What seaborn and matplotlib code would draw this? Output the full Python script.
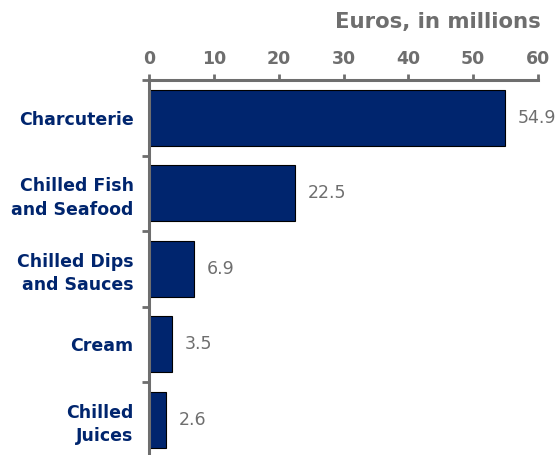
import matplotlib
matplotlib.use("Agg")
import matplotlib.pyplot as plt
import seaborn as sns
import pandas as pd
import numpy as np

categories = ["Charcuterie", "Chilled Fish\nand Seafood", "Chilled Dips\nand Sauces", "Cream", "Chilled\nJuices"]
values = [54.9, 22.5, 6.9, 3.5, 2.6]
x_ticks = [0, 10, 20, 30, 40, 50, 60]
axis_title = "Euros, in millions"

navy = "#00256E"
grey = "#6E6E6E"

sns.set_theme(style="white")
plt.rcParams["font.family"] = ["DejaVu Sans"]

df = pd.DataFrame({"category": categories, "value": values})

fig = plt.figure(figsize=(5.58, 4.55), dpi=100)
ax = fig.add_axes([149 / 558, -0.0055, (538 - 149) / 558, (457.5 - 80) / 455])

sns.barplot(data=df, x="value", y="category", orient="h", color=navy,
            saturation=1, width=0.74, edgecolor="black", linewidth=0.8, ax=ax)

ax.set_xlim(0, 60)
ax.set_ylim(4.5, -0.5)
ax.xaxis.tick_top()
ax.set_xticks(x_ticks)
ax.set_xticklabels([str(t) for t in x_ticks], fontsize=12.5, fontweight="bold", color=grey)
ax.tick_params(axis="x", which="major", direction="out", length=4, width=2, color=grey, pad=5, top=True, bottom=False)

ax.set_yticks(range(len(categories)))
ax.set_yticklabels(categories, fontsize=12.5, fontweight="bold", color=navy, linespacing=1.4)
ax.tick_params(axis="y", which="major", length=0, pad=11)
ax.set_yticks(np.arange(-0.5, len(categories), 1.0), minor=True)
ax.tick_params(axis="y", which="minor", direction="out", length=5, width=2, color=grey, left=True)

ax.set_xlabel("")
ax.set_ylabel("")
for side in ["right", "bottom"]:
    ax.spines[side].set_visible(False)
for side in ["top", "left"]:
    ax.spines[side].set_color(grey)
    ax.spines[side].set_linewidth(2.2)

for i, v in enumerate(values):
    ax.text(v + 2.0, i, f"{v:.1f}", va="center", ha="left", fontsize=12.5, color=grey)

fig.text(541 / 558, 1 - 22 / 455, axis_title, ha="right", va="center",
         fontsize=15.3, fontweight="bold", color=grey)

fig.savefig("out.png", dpi=100)
